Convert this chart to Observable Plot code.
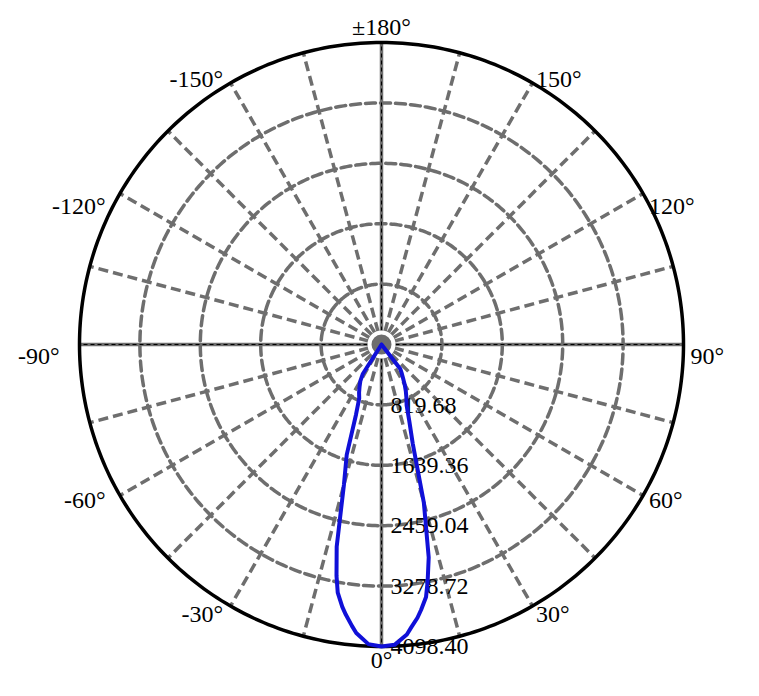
<!DOCTYPE html>
<html><head><meta charset="utf-8">
<script src="https://cdn.jsdelivr.net/npm/d3@7"></script>
<script src="https://cdn.jsdelivr.net/npm/@observablehq/plot@0.6"></script>
<style>body{margin:0;background:#fff} #chart svg{display:block}</style>
</head><body><div id="chart"></div>
<script>
// Data: luminous intensity (cd) by angle (deg), 0° pointing down
const angles = [-35,-32.5,-30,-27.5,-25,-22.5,-20,-17.5,-15,-12.5,-11,-10,-8.5,-7.5,-6,-5,-2.5,0,2.5,5,6,7.5,8.5,10,11,12.5,15,17.5,20,22.5,25,27.5,30,32.5,35,37.5,40];
const intensity = [0,470,575,645,720,790,1010,1570,1970,2810,3200,3420,3600,3700,3840,3930,4070,4098.4,4080,3950,3860,3740,3640,3480,3280,2960,2220,1410,1100,890,800,715,630,545,480,420,0];
const ringValues = [819.68,1639.36,2459.04,3278.72,4098.40];
const spokeAngles = d3.range(0,360,15);
const angleTicks = [0,30,60,90,120,150,180,-150,-120,-90,-60,-30];
const angleTickLabels = ["0°","30°","60°","90°","120°","150°","±180°","-150°","-120°","-90°","-60°","-30°"];

const W = 759, H = 696;
const maxR = ringValues[ringValues.length-1];
const mL = 79, mR = 76, mT = 42, mB = 50;
const pxPerUnit = (W - mL - mR) / (2*maxR);
const k = 1/pxPerUnit;
const rad = d => d*Math.PI/180;
const X = (a, r) => r*Math.sin(rad(a));
const Y = (a, r) => -r*Math.cos(rad(a));
const gray = "#6e6e6e";

const curve = angles.map((a,i) => ({x: X(a,intensity[i]), y: Y(a,intensity[i])}));
const ringPts = ringValues.flatMap((v,j) => d3.range(0,361,1).map(a => ({ring:j, v, x:X(a,v), y:Y(a,v)})));
const innerRings = ringPts.filter(d => d.v < maxR);
const outerRing = ringPts.filter(d => d.v === maxR);
const r0 = 13*k;
const spokes = spokeAngles.map(a => ({a, x1:X(a,r0), y1:Y(a,r0), x2:X(a,maxR), y2:Y(a,maxR), axis: a%90===0}));
const axes = spokes.filter(d=>d.axis).map(d => ({...d, x1:0, y1:0}));
const off = a => { const t=rad(a); return 5.67 - 9.26*Math.cos(t) - 6.17*Math.cos(2*t) + 7.67*Math.cos(3*t); };
const labels = angleTicks.map((a,i) => {
  const s = Math.sin(rad(a));
  const side = Math.abs(s)<1e-6 ? 0 : Math.sign(s);
  const rx = side < 0 ? 317 + 5*Math.pow(s,8) : 309;
  return {a, text: angleTickLabels[i], side,
    x: (rx*s)*k,
    y: -(318*Math.cos(rad(a)) + off(a))*k};
});
const radial = ringValues.map(v => ({v, text: v.toFixed(2), x:0, y:-v}));

const font = "'Liberation Serif','Times New Roman',serif";
const fs = 24;
const plot = Plot.plot({
  width: W, height: H,
  marginLeft: mL, marginRight: mR, marginTop: mT, marginBottom: mB,
  x: {domain: [-maxR, maxR], axis: null},
  y: {domain: [-maxR, maxR], axis: null},
  style: {fontFamily: font, fontSize: fs + "px", background: "white", color: "black"},
  marks: [
    Plot.line(innerRings, {x:"x", y:"y", z:"ring", stroke: gray, strokeWidth: 3.5, strokeDasharray: "10,5"}),
    Plot.link(spokes.filter(d=>!d.axis), {x1:"x1", y1:"y1", x2:"x2", y2:"y2", stroke: gray, strokeWidth: 3.5, strokeDasharray: "10,5"}),
    Plot.link(axes, {x1:"x1", y1:"y1", x2:"x2", y2:"y2", stroke: gray, strokeWidth: 3.5}),
    Plot.link(axes, {x1:"x1", y1:"y1", x2:"x2", y2:"y2", stroke: "black", strokeWidth: 1, strokeDasharray: "4,3"}),
    Plot.dot([{x:0,y:0}], {x:"x", y:"y", r: 12, fill: gray, stroke: "white", strokeWidth: 4}),
    Plot.text(radial, {x:"x", y:"y", text:"text", dx: 9, textAnchor: "start", fill: "black", fontSize: fs, fontFamily: font}),
    Plot.line(outerRing, {x:"x", y:"y", stroke: "black", strokeWidth: 3.5}),
    Plot.text(labels.filter(d=>d.side===0), {x:"x", y:"y", text:"text", textAnchor:"middle", fill:"black", fontSize: fs, fontFamily: font}),
    Plot.text(labels.filter(d=>d.side<0), {x:"x", y:"y", text:"text", textAnchor:"end", fill:"black", fontSize: fs, fontFamily: font}),
    Plot.text(labels.filter(d=>d.side>0), {x:"x", y:"y", text:"text", textAnchor:"start", fill:"black", fontSize: fs, fontFamily: font}),
    Plot.line(curve, {x:"x", y:"y", stroke: "#1010d8", strokeWidth: 4, strokeLinejoin: "round"})
  ]
});
document.getElementById("chart").appendChild(plot);
</script>
</body></html>
